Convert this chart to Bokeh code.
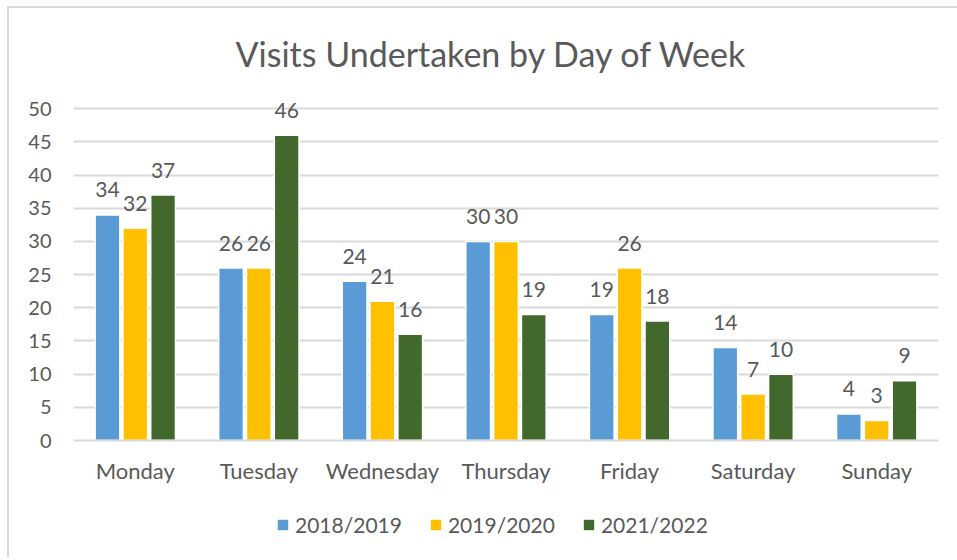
from bokeh.plotting import figure
from bokeh.layouts import column
from bokeh.models import ColumnDataSource, FactorRange, Legend, LegendItem, LabelSet
from bokeh.transform import dodge
from bokeh.embed import file_html
from bokeh.resources import INLINE
from bokeh.core.properties import value

days = ["Monday", "Tuesday", "Wednesday", "Thursday", "Friday", "Saturday", "Sunday"]
series_names = ["2018/2019", "2019/2020", "2021/2022"]
v_2018 = [34, 26, 24, 30, 19, 14, 4]
v_2019 = [32, 26, 21, 30, 26, 7, 3]
v_2021 = [37, 46, 16, 19, 18, 10, 9]
y_ticks = [0, 5, 10, 15, 20, 25, 30, 35, 40, 45, 50]

colors = ["#5B9BD5", "#FFC000", "#43682B"]
FONT = "Lato"
GREY = "#595959"

src = ColumnDataSource(dict(day=days, a=v_2018, b=v_2019, c=v_2021,
                            la=[str(v) for v in v_2018],
                            lb=[str(v) for v in v_2019],
                            lc=[str(v) for v in v_2021]))

p = figure(x_range=FactorRange(*days, range_padding=0), y_range=(0, 52),
           width=948, height=487, output_backend="svg", toolbar_location=None,
           min_border_left=64, min_border_right=19, min_border_top=86, min_border_bottom=55)

p.title.text = "Visits Undertaken by Day of Week"
p.title.align = "left"
p.title.offset = 162
p.title.text_font = FONT
p.title.text_font_size = "34px"
p.title.text_font_style = "normal"
p.title.text_color = GREY
p.title.standoff = 44

offsets = [-0.225, 0.0, 0.225]
cols = ["a", "b", "c"]
lcols = ["la", "lb", "lc"]
for off, col, lc, color in zip(offsets, cols, lcols, colors):
    p.vbar(x=dodge("day", off, range=p.x_range), top=col, width=0.2, source=src,
           fill_color=color, line_color="white", line_width=1.5)
    labels = LabelSet(x=dodge("day", off, range=p.x_range), y=col, text=lc, source=src,
                      text_align="center", text_baseline="middle", y_offset=25,
                      text_font=value(FONT), text_font_size="21px", text_color=GREY)
    p.add_layout(labels)

p.outline_line_color = None
p.xgrid.grid_line_color = None
p.ygrid.grid_line_color = "#d9d9d9"
p.ygrid.grid_line_width = 1.8
p.yaxis.ticker = y_ticks
p.yaxis.axis_line_color = None
p.yaxis.major_tick_line_color = None
p.yaxis.minor_tick_line_color = None
p.yaxis.major_label_text_font = FONT
p.yaxis.major_label_text_font_size = "20px"
p.yaxis.major_label_text_color = GREY
p.yaxis.major_label_standoff = 16

p.xaxis.axis_line_color = "#d9d9d9"
p.xaxis.axis_line_width = 1.8
p.xaxis.major_tick_line_color = None
p.xaxis.minor_tick_line_color = None
p.xaxis.major_label_text_font = FONT
p.xaxis.major_label_text_font_size = "22px"
p.xaxis.major_label_text_color = GREY
p.xaxis.major_label_standoff = 10

# legend strip below the chart (legend-only renderers have zero height, no outline)
lp = figure(width=948, height=62, x_range=(0, 1), y_range=(0, 1), output_backend="svg",
            toolbar_location=None, min_border=0, x_axis_location=None, y_axis_location=None)
lp.grid.grid_line_color = None
lp.outline_line_color = None
dummy = [lp.vbar(x=[0.5], top=[0], bottom=[0], width=0.1, fill_color=c, line_color=None)
         for c in colors]
legend = Legend(items=[LegendItem(label=n, renderers=[r]) for n, r in zip(series_names, dummy)],
                orientation="horizontal", location=(203, 20))
legend.label_text_font = FONT
legend.label_text_font_size = "21px"
legend.label_text_color = GREY
legend.glyph_width = 13
legend.glyph_height = 13
legend.spacing = 27
legend.label_standoff = 6
legend.border_line_color = None
legend.background_fill_alpha = 0
legend.margin = 0
legend.padding = 0
lp.add_layout(legend, "center")

layout = column(p, lp, spacing=0)
layout.margin = (6, 0, 0, 7)
layout.styles = {"border-top": "2px solid #d9d9d9", "border-left": "2px solid #d9d9d9"}

open("out.html", "w").write(file_html(layout, INLINE))
